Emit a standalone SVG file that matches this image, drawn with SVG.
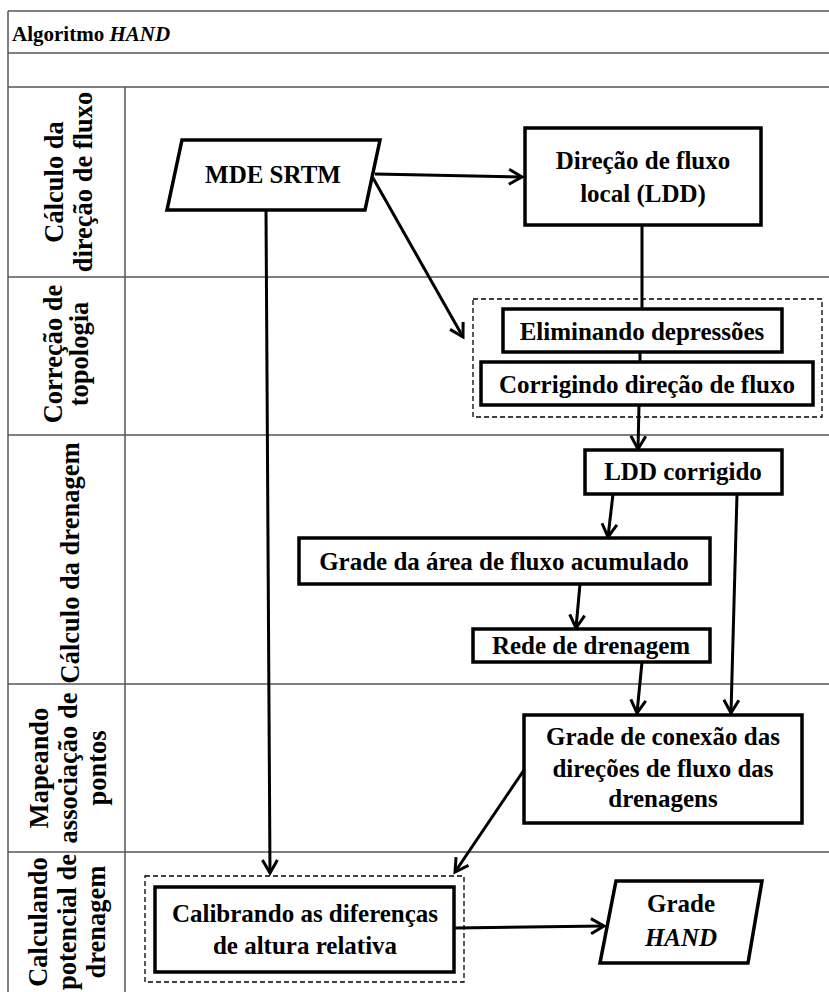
<svg xmlns="http://www.w3.org/2000/svg" width="829" height="992" viewBox="0 0 829 992" font-family="'Liberation Serif', serif">
<defs>
<style>
.grid{stroke:#555;stroke-width:1.5;fill:none}
.box{fill:#fff;stroke:#000;stroke-width:3.5}
.dash{fill:none;stroke:#000;stroke-width:1.3;stroke-dasharray:5,3}
.t{font-weight:bold;font-size:25px;fill:#000;text-anchor:middle}
.lab{font-weight:bold;font-size:26.5px;fill:#000;text-anchor:middle}
.ttl{font-weight:bold;font-size:21px;fill:#000}
.c{stroke:#000;stroke-width:3;fill:none}
</style>
<marker id="ah" markerUnits="userSpaceOnUse" markerWidth="20" markerHeight="20" refX="14" refY="8" orient="auto" viewBox="0 0 20 16">
<path d="M1,0.5 L14,8 L1,15.5" fill="none" stroke="#000" stroke-width="3"/>
</marker>
</defs>
<rect width="829" height="992" fill="#fff"/>
<g id="table">
<line class="grid" x1="8" y1="11" x2="829" y2="11"/>
<line class="grid" x1="8" y1="53" x2="829" y2="53"/>
<line class="grid" x1="8" y1="87" x2="829" y2="87"/>
<line class="grid" x1="8" y1="277" x2="829" y2="277"/>
<line class="grid" x1="8" y1="435" x2="829" y2="435"/>
<line class="grid" x1="8" y1="684" x2="829" y2="684"/>
<line class="grid" x1="8" y1="852" x2="829" y2="852"/>
<line class="grid" x1="8" y1="11" x2="8" y2="992"/>
<line class="grid" x1="125" y1="87" x2="125" y2="992"/>
<text class="ttl" x="12" y="41">Algoritmo <tspan font-style="italic">HAND</tspan></text>
</g>
<g id="lane-labels">
<text class="lab" transform="translate(63,182) rotate(-90)">Cálculo da</text>
<text class="lab" transform="translate(92,182) rotate(-90)">direção de fluxo</text>
<text class="lab" transform="translate(62,354) rotate(-90)">Correção de</text>
<text class="lab" transform="translate(88,354) rotate(-90)">topologia</text>
<text class="lab" transform="translate(79,563) rotate(-90)">Cálculo da drenagem</text>
<text class="lab" transform="translate(48,768) rotate(-90)">Mapeando</text>
<text class="lab" transform="translate(77,768) rotate(-90)">associação de</text>
<text class="lab" transform="translate(106,768) rotate(-90)">pontos</text>
<text class="lab" transform="translate(47,922) rotate(-90)">Calculando</text>
<text class="lab" transform="translate(76,922) rotate(-90)">potencial de</text>
<text class="lab" transform="translate(105,922) rotate(-90)">drenagem</text>
</g>
<g id="connectors">
<line class="c" x1="375" y1="174" x2="522" y2="177" marker-end="url(#ah)"/>
<line class="c" x1="373" y1="178" x2="463" y2="337" marker-end="url(#ah)"/>
<line class="c" x1="266" y1="210" x2="270" y2="873" marker-end="url(#ah)"/>
<line class="c" x1="642" y1="225" x2="642" y2="309"/>
<line class="c" x1="640" y1="352" x2="640" y2="362"/>
<line class="c" x1="639" y1="405" x2="638" y2="449" marker-end="url(#ah)"/>
<line class="c" x1="613" y1="494" x2="608" y2="537" marker-end="url(#ah)"/>
<line class="c" x1="580" y1="584" x2="576" y2="628" marker-end="url(#ah)"/>
<line class="c" x1="737" y1="494" x2="731" y2="713" marker-end="url(#ah)"/>
<line class="c" x1="642" y1="662" x2="637" y2="713" marker-end="url(#ah)"/>
<line class="c" x1="524" y1="770" x2="455" y2="872" marker-end="url(#ah)"/>
<line class="c" x1="455" y1="928" x2="604" y2="926" marker-end="url(#ah)"/>
</g>
<g id="mde-srtm">
<polygon class="box" points="182,140 380,140 365,210 167,210"/>
<text class="t" x="273" y="183">MDE SRTM</text>
</g>
<g id="direcao-fluxo">
<rect class="box" x="525" y="128" width="236" height="97"/>
<text class="t" x="643" y="169">Direção de fluxo</text>
<text class="t" x="643" y="202">local (LDD)</text>
</g>
<g id="topologia-group">
<rect class="dash" x="473" y="299" width="349" height="118"/>
</g>
<g id="eliminando">
<rect class="box" x="503" y="309" width="279" height="43"/>
<text class="t" x="642" y="340">Eliminando depressões</text>
</g>
<g id="corrigindo">
<rect class="box" x="481" y="362" width="332" height="43"/>
<text class="t" x="647" y="393">Corrigindo direção de fluxo</text>
</g>
<g id="ldd-corrigido">
<rect class="box" x="585" y="450" width="197" height="44"/>
<text class="t" x="683" y="480">LDD corrigido</text>
</g>
<g id="grade-area">
<rect class="box" x="299" y="538" width="411" height="46"/>
<text class="t" x="504" y="570">Grade da área de fluxo acumulado</text>
</g>
<g id="rede-drenagem">
<rect class="box" x="473" y="629" width="237" height="33"/>
<text class="t" x="591" y="654">Rede de drenagem</text>
</g>
<g id="grade-conexao">
<rect class="box" x="524" y="715" width="278" height="108"/>
<text class="t" x="663" y="745">Grade de conexão das</text>
<text class="t" x="663" y="777">direções de fluxo das</text>
<text class="t" x="663" y="807">drenagens</text>
</g>
<g id="calibrando-group">
<rect class="dash" x="145" y="876" width="319" height="106"/>
</g>
<g id="calibrando">
<rect class="box" x="155" y="887" width="299" height="85"/>
<text class="t" x="305" y="922">Calibrando as diferenças</text>
<text class="t" x="305" y="954">de altura relativa</text>
</g>
<g id="grade-hand">
<polygon class="box" points="616,881 762,881 748,963 600,963"/>
<text class="t" x="681" y="912">Grade</text>
<text class="t" x="681" y="946" font-style="italic">HAND</text>
</g>
</svg>
